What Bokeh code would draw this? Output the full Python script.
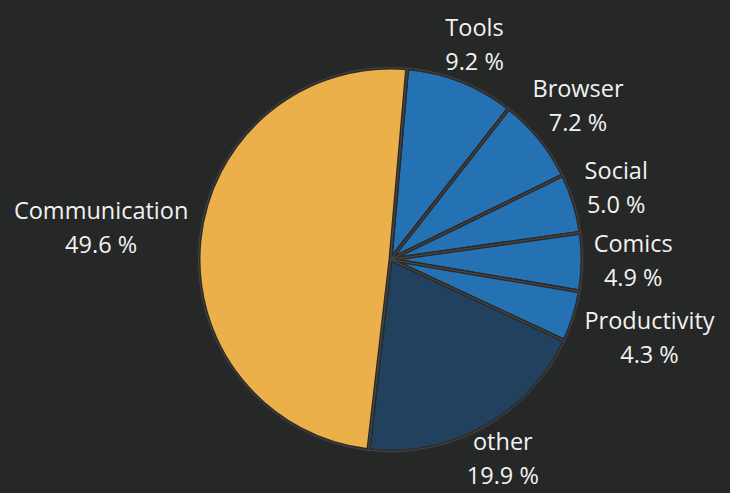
import math
from bokeh.plotting import figure
from bokeh.models import Range1d, ColumnDataSource
from bokeh.embed import file_html
from bokeh.resources import INLINE
from bokeh.core.properties import value

# ---- data ----
categories = ["Tools", "Browser", "Social", "Comics", "Productivity", "other", "Communication"]
shares = [9.2, 7.2, 5.0, 4.9, 4.3, 19.9, 49.6]
slice_colors = ["#2471b4", "#2471b4", "#2471b4", "#2471b4", "#2471b4", "#22415e", "#ecb04a"]
pct_labels = [f"{v:.1f} %" for v in shares]

# ---- layout ----
W, H = 730, 493
CX, CY = 390, 259          # pie centre in figure pixels (from top-left)
R = 192
START_DEG = 5.0            # clockwise from 12 o'clock
FONT = "Open Sans"
FS = 23.5
BG = "#262727"

# approximate glyph widths (em) for label box estimation
_cw = {'m': 0.93, 'i': 0.25, 'l': 0.25, 't': 0.36, 'r': 0.41, 'f': 0.33, 'c': 0.5,
       's': 0.47, 'o': 0.6, 'u': 0.61, 'n': 0.61, 'e': 0.56, 'a': 0.56, 'w': 0.8,
       'v': 0.5, 'y': 0.5, 'd': 0.61, 'h': 0.61, 'b': 0.61, 'p': 0.61, 'C': 0.63,
       'T': 0.55, 'B': 0.64, 'S': 0.53, 'P': 0.6, ' ': 0.26, '%': 0.82, '.': 0.27}


def text_w(s):
    return sum(_cw.get(ch, 0.57) for ch in s) * FS


total = sum(shares)
starts, ends, mids = [], [], []
acc = START_DEG
for v in shares:
    d = v / total * 360.0
    starts.append(acc)
    ends.append(acc + d)
    mids.append(acc + d / 2)
    acc += d

# bokeh angles (math convention), clockwise drawing
start_angle = [math.radians(90 - a) for a in starts]
end_angle = [math.radians(90 - a) for a in ends]

src = ColumnDataSource(dict(cat=categories, start=start_angle, end=end_angle,
                            color=slice_colors))

# label positions: the label box is placed on the slice's mid ray so that the
# box edge nearest the pie sits at distance R0 from the centre
R0 = 203
HH = 24
lx, ly = [], []
for m, name, pl in zip(mids, categories, pct_labels):
    a = math.radians(m)
    hw = max(text_w(name), text_w(pl)) / 2
    s, c = abs(math.sin(a)), abs(math.cos(a))
    d = min(hw / s if s > 1e-6 else 1e9, HH / c if c > 1e-6 else 1e9)
    rr = R0 + d
    lx.append(rr * math.sin(a))
    ly.append(rr * math.cos(a))

lsrc = ColumnDataSource(dict(x=lx, y=ly, name=categories, pct=pct_labels))

p = figure(width=W, height=H, output_backend="svg", toolbar_location=None,
           x_range=Range1d(-CX, W - CX), y_range=Range1d(-(H - CY), CY),
           x_axis_type=None, y_axis_type=None, min_border=0,
           background_fill_color=BG, border_fill_color=BG, outline_line_color=None)
p.grid.visible = False

p.wedge(x=0, y=0, radius=R, start_angle="start", end_angle="end", direction="clock",
        fill_color="color", line_color="#2a2a2a", line_width=4, source=src)
p.wedge(x=0, y=0, radius=R, start_angle="start", end_angle="end", direction="clock",
        fill_color=None, line_color="#454545", line_width=1, source=src)

p.text(x="x", y="y", text="name", source=lsrc, text_align="center",
       text_baseline="middle", y_offset=-20, text_color="#f2f2f2",
       text_font=value(FONT), text_font_size=f"{FS}px")
p.text(x="x", y="y", text="pct", source=lsrc, text_align="center",
       text_baseline="middle", y_offset=14, text_color="#f2f2f2",
       text_font=value(FONT), text_font_size=f"{FS}px")

html = file_html(p, INLINE, title="chart")
html = html.replace("</head>", "<style>html, body { background: #262727; }</style></head>", 1)
open("out.html", "w").write(html)
